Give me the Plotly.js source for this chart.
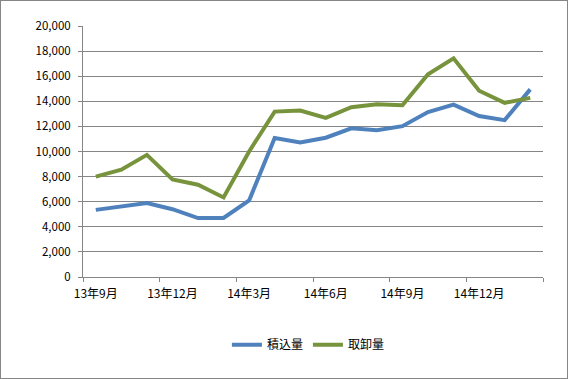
<!DOCTYPE html>
<html>
<head>
<meta charset="utf-8">
<script src="https://cdn.plot.ly/plotly-3.0.1.min.js"></script>
<style>
  html, body { margin: 0; padding: 0; background: #fff; }
  #chart { width: 568px; height: 379px; box-sizing: border-box; border: 1px solid #868686; }
</style>
</head>
<body>
<div id="chart"></div>
<script>
// Months (categories)
const months = ["13年9月","13年10月","13年11月","13年12月","14年1月","14年2月","14年3月","14年4月","14年5月",
                "14年6月","14年7月","14年8月","14年9月","14年10月","14年11月","14年12月","15年1月","15年2月"];
// 積込量 (loading)
const loading = [5350, 5600, 5900, 5400, 4700, 4700, 6100, 11080, 10720, 11100, 11850, 11700, 12020, 13140, 13740, 12830, 12500, 14950];
// 取卸量 (unloading)
const unloading = [8000, 8550, 9730, 7780, 7350, 6340, 10000, 13180, 13260, 12680, 13530, 13760, 13680, 16160, 17420, 14840, 13880, 14270];
const seriesNames = ["積込量", "取卸量"];
const labelEvery = 3;

const idx = months.map((m, i) => i);
const labelVals = idx.filter(i => i % labelEvery === 0);
const labelText = labelVals.map(i => months[i]);
const boundaryVals = [];
for (let b = 0; b <= months.length; b += labelEvery) boundaryVals.push(b - 0.5);
if (boundaryVals[boundaryVals.length - 1] < months.length - 0.5) boundaryVals.push(months.length - 0.5);

const fam = "'Noto Sans CJK JP', 'Noto Sans', sans-serif";
const font = {family: fam, size: 11, color: "#000"};
const gray = "#868686";
const xr = [-0.5, months.length - 0.5];

const traces = [
  {x: idx, y: loading, name: seriesNames[0], type: "scatter", mode: "lines",
   line: {color: "#4F81BD", width: 4}, xaxis: "x", yaxis: "y"},
  {x: idx, y: unloading, name: seriesNames[1], type: "scatter", mode: "lines",
   line: {color: "#77933C", width: 4}, xaxis: "x2", yaxis: "y"}
];

const layout = {
  width: 566, height: 377,
  margin: {l: 82, r: 24, t: 25, b: 101},
  paper_bgcolor: "#fff", plot_bgcolor: "#fff",
  font: font,
  showlegend: true,
  legend: {orientation: "h", x: 0.49, xanchor: "center", y: -0.27, yanchor: "middle",
           font: {family: fam, size: 12, color: "#000"}, itemwidth: 30},
  xaxis: {
    range: xr, tickmode: "array", tickvals: boundaryVals, ticktext: boundaryVals.map(() => ""),
    ticks: "outside", ticklen: 4, tickcolor: gray, showline: true, linecolor: gray, linewidth: 1,
    showgrid: false, zeroline: false, fixedrange: true
  },
  xaxis2: {
    overlaying: "x", anchor: "y", side: "bottom", matches: "x",
    range: xr, tickmode: "array", tickvals: labelVals, ticktext: labelText,
    ticks: "", showline: false, showgrid: false, zeroline: false, fixedrange: true,
    ticklabelstandoff: 8,
    tickfont: {family: fam, size: 12, color: "#000"}
  },
  yaxis: {
    range: [0, 20000], dtick: 2000, tickformat: ",d",
    ticks: "outside", ticklen: 4, tickcolor: gray,
    showline: true, linecolor: gray, linewidth: 1,
    showgrid: true, gridcolor: gray, gridwidth: 1, zeroline: false,
    ticklabelstandoff: 5,
    tickfont: {family: fam, size: 11.5, color: "#000"}, fixedrange: true
  },
  hovermode: false
};

Plotly.newPlot("chart", traces, layout, {displayModeBar: false, staticPlot: true});
</script>
</body>
</html>
